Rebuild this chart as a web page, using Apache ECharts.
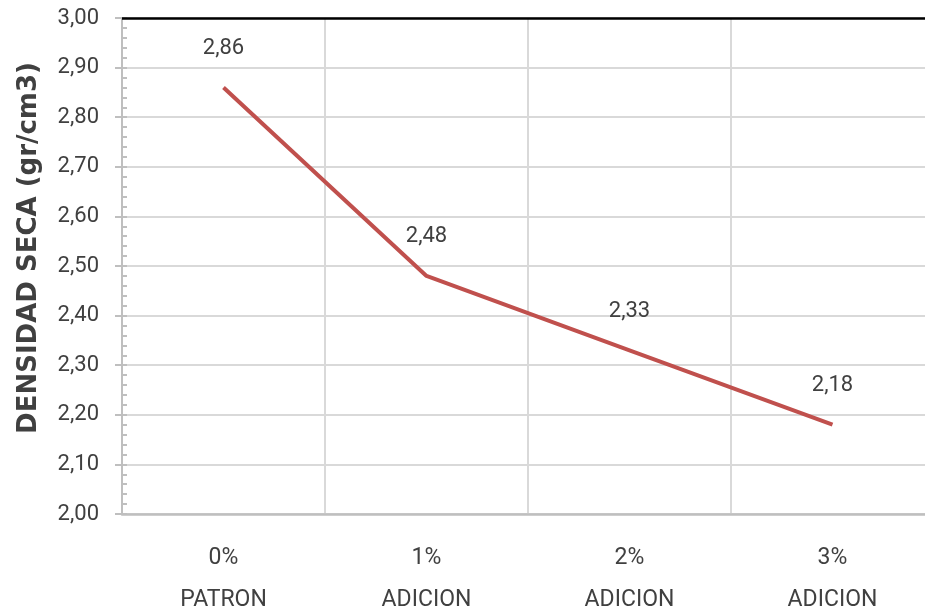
<!DOCTYPE html>
<html>
<head>
<meta charset="utf-8">
<title>Densidad seca</title>
<script src="https://cdn.jsdelivr.net/npm/echarts@6/dist/echarts.min.js"></script>
<style>
  html, body { margin: 0; padding: 0; background: #ffffff; }
  #chart { width: 925px; height: 616px; }
</style>
</head>
<body>
<div id="chart"></div>
<script>
// Dry density for each addition percentage
const categories = ['0%\nPATRON', '1%\nADICION', '2%\nADICION', '3%\nADICION'];
const densidad = [2.86, 2.48, 2.33, 2.18];
const yMin = 2.0;
const yMax = 3.0;
const yStep = 0.1;

const fmt = v => Number(v).toFixed(2).replace('.', ',');
const textColor = '#404040';
const gridColor = '#d9d9d9';
const axisColor = '#bfbfbf';

const chart = echarts.init(document.getElementById('chart'));

chart.setOption({
  animation: false,
  backgroundColor: '#ffffff',
  grid: { left: 122, top: 18, width: 812, height: 496, outerBoundsMode: 'none', containLabel: false },
  xAxis: {
    type: 'category',
    data: categories,
    boundaryGap: true,
    axisLine: { show: true, lineStyle: { color: axisColor, width: 2.5 } },
    axisTick: { show: false },
    splitLine: { show: true, lineStyle: { color: gridColor, width: 2 } },
    axisLabel: {
      margin: 23,
      color: textColor,
      fontFamily: 'Roboto',
      fontSize: 23,
      lineHeight: 42,
      interval: 0
    }
  },
  yAxis: [
    {
      type: 'value',
      min: yMin,
      max: yMax,
      interval: yStep,
      name: 'DENSIDAD SECA (gr/cm3)',
      nameLocation: 'middle',
      nameGap: 80,
      nameTextStyle: {
        fontFamily: 'DejaVu Sans',
        fontWeight: 'bold',
        fontSize: 26,
        color: textColor,
        padding: [0, 0, 0, 36]
      },
      axisLine: { show: true, lineStyle: { color: axisColor, width: 2 } },
      axisTick: { show: true, length: 7, lineStyle: { color: axisColor, width: 2 } },
      splitLine: { show: true, lineStyle: { color: gridColor, width: 2 } },
      axisLabel: {
        margin: 23,
        color: textColor,
        fontFamily: 'Roboto',
        fontSize: 22,
        formatter: fmt
      }
    },
    {
      // inner ruler: minor ticks drawn toward the plot area
      type: 'value',
      position: 'left',
      min: yMin,
      max: yMax,
      interval: yStep,
      axisLine: { show: false },
      axisLabel: { show: false },
      splitLine: { show: false },
      axisTick: { show: true, inside: true, length: 5, lineStyle: { color: axisColor, width: 2 } },
      minorTick: { show: true, splitNumber: 5, length: 5, lineStyle: { color: axisColor, width: 2 } }
    }
  ],
  series: [
    {
      type: 'line',
      data: densidad,
      yAxisIndex: 0,
      symbol: 'circle',
      symbolSize: 2,
      showSymbol: true,
      itemStyle: { color: 'rgba(192,80,77,0)', borderWidth: 0 },
      lineStyle: { color: '#c0504d', width: 4 },
      label: {
        show: true,
        position: 'top',
        distance: 27,
        color: textColor,
        fontFamily: 'Roboto',
        fontSize: 22,
        formatter: p => fmt(p.value)
      },
      labelLayout: { hideOverlap: false },
      markLine: {
        silent: true,
        symbol: 'none',
        label: { show: false },
        lineStyle: { color: '#000000', width: 2.5, type: 'solid' },
        data: [{ yAxis: yMax }]
      }
    }
  ]
});
</script>
</body>
</html>
